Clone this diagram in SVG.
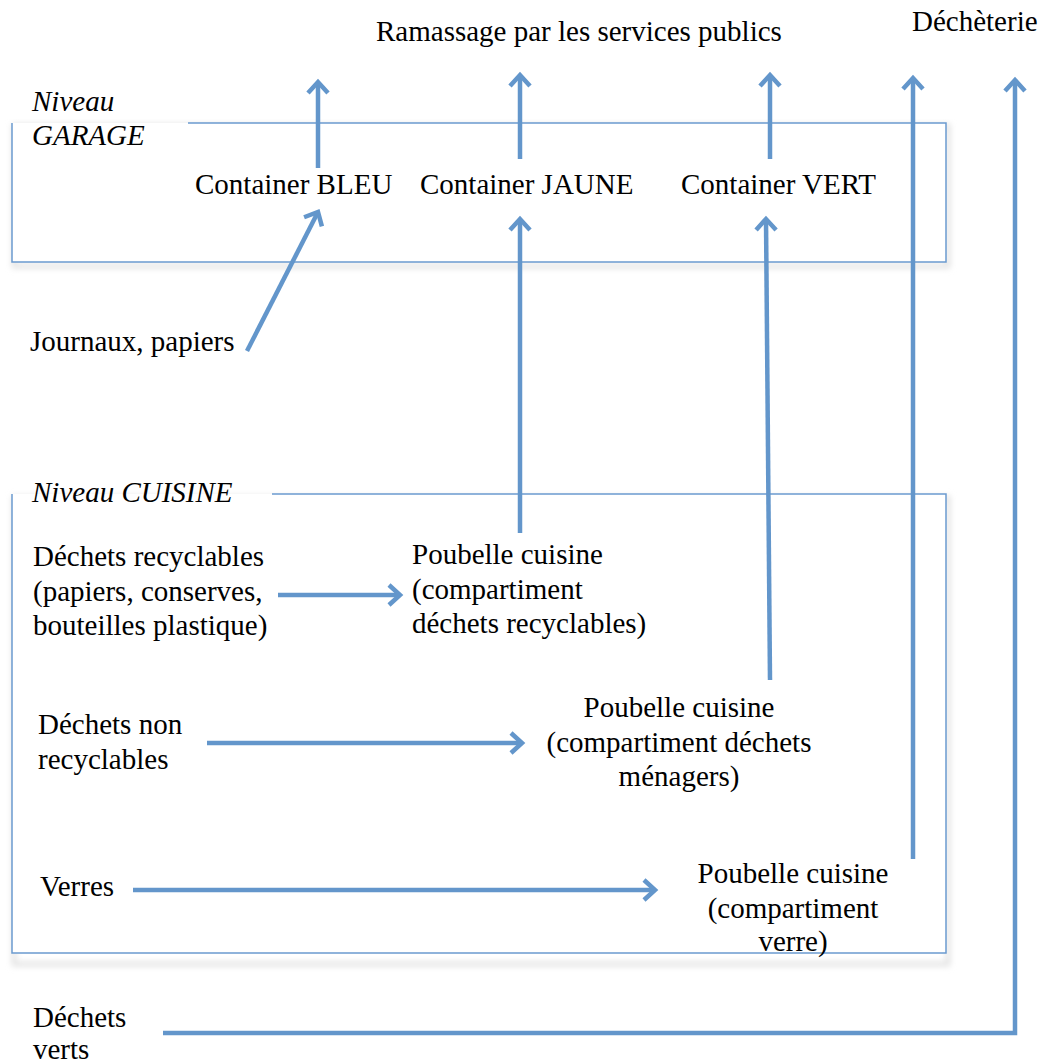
<svg xmlns="http://www.w3.org/2000/svg" width="1041" height="1063" viewBox="0 0 1041 1063">
<style>
text{font-family:"Liberation Serif","Times New Roman",serif;font-size:29px;fill:#000}
.it{font-style:italic}
.box{fill:none;stroke:#6b9bd0;stroke-width:1.5}
.ar{fill:none;stroke:#6396cb;stroke-width:4.5}
.mid{text-anchor:middle}
</style>
<defs>
<marker id="ah" markerUnits="userSpaceOnUse" viewBox="0 0 24 24" markerWidth="24" markerHeight="24" refX="14" refY="12" orient="auto">
<path d="M3,2 L14,12 L3,22" fill="none" stroke="#6396cb" stroke-width="4.5" stroke-linejoin="miter"/>
</marker>
<filter id="sh" x="-5%" y="-5%" width="110%" height="120%">
<feGaussianBlur stdDeviation="3"/>
</filter>
</defs>
<rect width="1041" height="1063" fill="#fff"/>
<g id="garage">
<rect x="14" y="126" width="934" height="140" fill="none" stroke="#ddd" stroke-width="4" filter="url(#sh)"/>
<rect x="12" y="123" width="934" height="139" fill="#fff" stroke="none"/>
<path class="box" d="M188,123 H946 V262 H12 V123"/>
<text class="it" x="32" y="111">Niveau</text>
<text class="it" x="32" y="145">GARAGE</text>
</g>
<g id="cuisine">
<rect x="14" y="498" width="934" height="466" fill="none" stroke="#ddd" stroke-width="4" filter="url(#sh)"/>
<rect x="12" y="494" width="934" height="459" fill="#fff" stroke="none"/>
<path class="box" d="M272,494 H946 V953 H12 V494"/>
<text class="it" x="32" y="502">Niveau CUISINE</text>
</g>
<g id="ramassage"><text x="376" y="41">Ramassage par les services publics</text></g>
<g id="decheterie"><text x="912" y="31">Déchèterie</text></g>
<g id="bleu"><text x="195" y="194">Container BLEU</text></g>
<g id="jaune"><text x="420" y="194">Container JAUNE</text></g>
<g id="vert"><text x="681" y="194">Container VERT</text></g>
<g id="journaux"><text x="30" y="351">Journaux, papiers</text></g>
<g id="recyclables"><text x="33" y="566">Déchets recyclables</text><text x="33" y="601">(papiers, conserves,</text><text x="33" y="635">bouteilles plastique)</text></g>
<g id="poubelle-recyclables"><text x="412" y="564">Poubelle cuisine</text><text x="412" y="599">(compartiment</text><text x="412" y="633">déchets recyclables)</text></g>
<g id="nonrecyclables"><text x="38" y="734">Déchets non</text><text x="38" y="769">recyclables</text></g>
<g id="poubelle-menagers"><text class="mid" x="679" y="717">Poubelle cuisine</text><text class="mid" x="679" y="752">(compartiment déchets</text><text class="mid" x="679" y="786">ménagers)</text></g>
<g id="verres"><text x="40" y="896">Verres</text></g>
<g id="poubelle-verre"><text class="mid" x="793" y="883">Poubelle cuisine</text><text class="mid" x="793" y="918">(compartiment</text><text class="mid" x="793" y="951">verre)</text></g>
<g id="verts"><text x="33" y="1027">Déchets</text><text x="33" y="1059">verts</text></g>
<g id="connectors">
<line class="ar" x1="318" y1="168" x2="318" y2="82" marker-end="url(#ah)"/>
<line class="ar" x1="520" y1="159" x2="520" y2="75" marker-end="url(#ah)"/>
<line class="ar" x1="770" y1="159" x2="770" y2="75" marker-end="url(#ah)"/>
<line class="ar" x1="913" y1="859" x2="913" y2="78" marker-end="url(#ah)"/>
<polyline class="ar" points="163,1033 1015,1033 1015,80" marker-end="url(#ah)"/>
<line class="ar" x1="247" y1="351" x2="318" y2="212" marker-end="url(#ah)"/>
<line class="ar" x1="520" y1="533" x2="520" y2="219" marker-end="url(#ah)"/>
<line class="ar" x1="770" y1="680" x2="766" y2="219" marker-end="url(#ah)"/>
<line class="ar" x1="278" y1="595" x2="400" y2="595" marker-end="url(#ah)"/>
<line class="ar" x1="207" y1="743" x2="522" y2="743" marker-end="url(#ah)"/>
<line class="ar" x1="133" y1="890" x2="655" y2="890" marker-end="url(#ah)"/>
</g>
</svg>
